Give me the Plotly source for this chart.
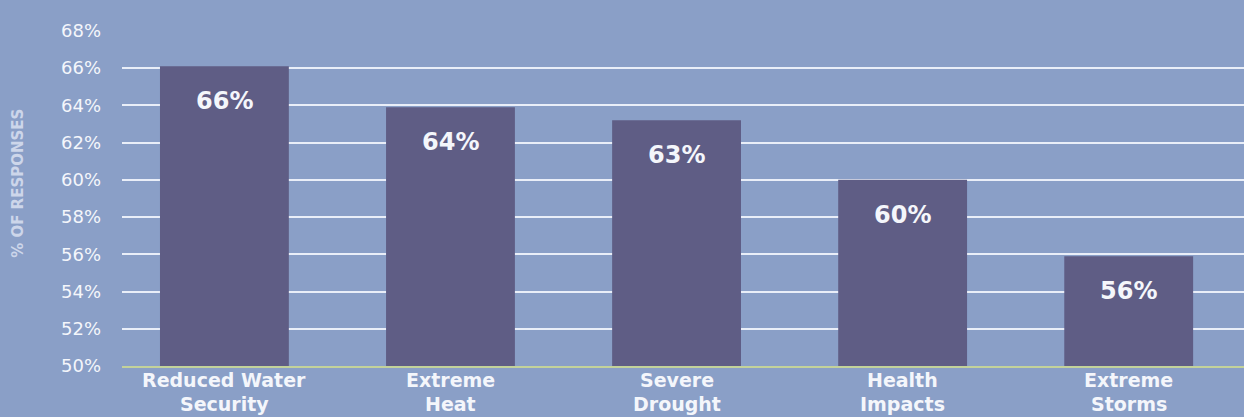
import plotly.graph_objects as go

categories = ["Reduced Water<br>Security", "Extreme<br>Heat", "Severe<br>Drought", "Health<br>Impacts", "Extreme<br>Storms"]
values = [66.1, 63.9, 63.2, 60.0, 55.9]
labels = ["66%", "64%", "63%", "60%", "56%"]
y_ticks = [50, 52, 54, 56, 58, 60, 62, 64, 66, 68]

BG = "#8a9fc7"
BAR = "#5f5d85"
TXT = "#f4f6fb"
FONT = "DejaVu Sans"

fig = go.Figure()
fig.add_trace(go.Bar(
    x=list(range(len(categories))), y=values,
    marker=dict(color=BAR, line=dict(width=0)),
    width=0.57, hoverinfo="skip",
))

for i, (v, t) in enumerate(zip(values, labels)):
    fig.add_annotation(x=i, y=v, text=t, showarrow=False, yanchor="middle",
                       yshift=-35, font=dict(family=FONT, size=24, color=TXT, weight="bold"))

# two-line category labels with controlled line spacing
for i, c in enumerate(categories):
    parts = c.split("<br>")
    for j, p in enumerate(parts):
        fig.add_annotation(x=i, xref="x", yref="paper", y=0, text=p, showarrow=False,
                           yanchor="middle", xanchor="center", yshift=-14 - 24 * j,
                           borderpad=0,
                           font=dict(family=FONT, size=19, color=TXT, weight="bold"))

fig.add_annotation(xref="paper", yref="paper", x=-0.0927, y=0.545, text="% OF RESPONSES",
                   textangle=-90, showarrow=False, xanchor="center", yanchor="middle",
                   font=dict(family=FONT, size=15, color="#cdd6ea", weight="bold"))

fig.update_layout(
    width=1244, height=417,
    margin=dict(l=122, r=0, t=30, b=51),
    paper_bgcolor=BG, plot_bgcolor=BG,
    showlegend=False,
    xaxis=dict(
        range=[-0.453, 4.51],
        showticklabels=False,
        showgrid=False, zeroline=False,
        showline=True, linecolor="#c3d29a", linewidth=2,
        ticks="",
    ),
    yaxis=dict(
        range=[50, 68.05],
        tickmode="array", tickvals=y_ticks, ticktext=[f"{t}%" for t in y_ticks],
        tickfont=dict(family=FONT, size=18, color=TXT),
        showgrid=True, gridcolor="#e9eef8", gridwidth=2,
        zeroline=False, showline=False, ticks="",
        ticklabelstandoff=20,
    ),
)

fig.write_html("out.html", config={"displayModeBar": False},
               post_script="document.body.style.margin='0';document.body.style.overflow='hidden';")
